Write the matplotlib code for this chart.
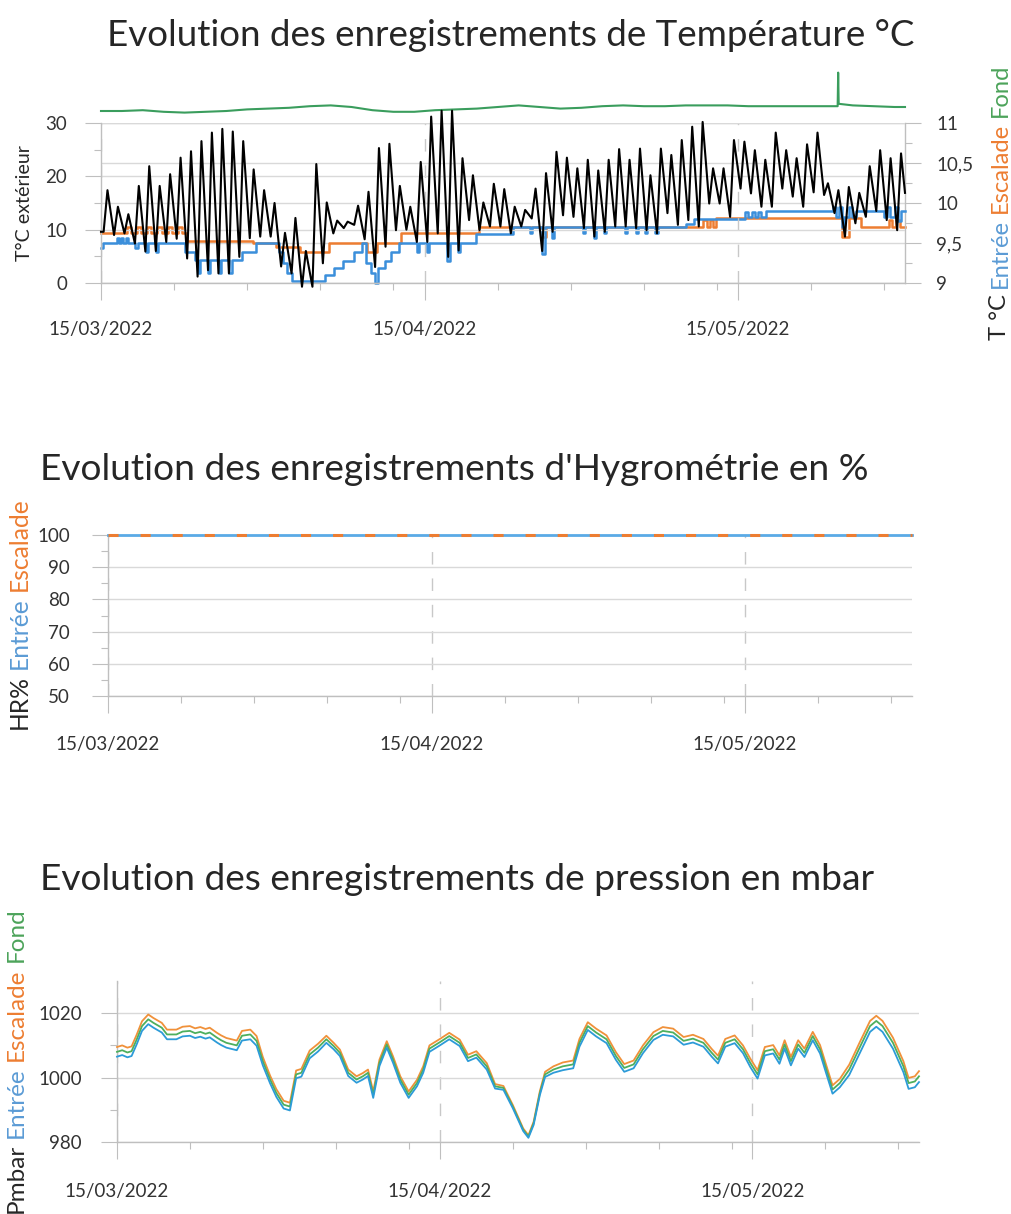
import matplotlib
matplotlib.use('Agg')
import matplotlib.pyplot as plt
import matplotlib.dates as mdates
from matplotlib.ticker import FixedLocator, MultipleLocator, FuncFormatter
from datetime import datetime, timedelta

plt.rcParams['font.family'] = ['Lato', 'DejaVu Sans']

W, H = 1011, 1214

# ------------------------------------------------------------------ data
START = '15/03/2022'
X_END = '31/05/2022'
major_dates = ['15/03/2022', '15/04/2022', '15/05/2022']
minor_dates = ['22/03/2022', '29/03/2022', '05/04/2022', '12/04/2022',
               '22/04/2022', '29/04/2022', '06/05/2022', '13/05/2022',
               '22/05/2022', '29/05/2022']

# exterior temperature: daily minimum / maximum (day 0 = 15/03)
ext_start = 9.6
ext_min = [9.6, 9.0, 9.3, 7.4, 5.9, 6.0, 7.7, 8.3, 4.6, 1.2,
           2.4, 1.8, 1.8, 4.9, 8.4, 8.7, 8.7, 3.1, 1.8, -0.7,
           -0.7, 3.7, 9.3, 10.3, 10.9, 8.2, 3.0, 6.8, 9.9, 10.0,
           7.7, 7.7, 9.3, 4.9, 6.1, 11.8, 9.9, 10.6, 10.6, 9.3,
           10.6, 12.1, 6.0, 9.6, 12.7, 12.4, 10.3, 8.7, 9.6, 10.6,
           10.6, 10.3, 9.9, 9.3, 13.1, 10.9, 11.8, 10.6, 14.9, 14.9,
           12.4, 17.7, 16.8, 14.3, 14.3, 17.7, 16.2, 14.3, 17.0, 16.5,
           13.1, 8.7, 11.2, 12.4, 13.5, 11.8, 9.9]
ext_max = [17.4, 14.3, 12.9, 18.2, 21.9, 18.2, 20.4, 23.5, 24.7, 26.6,
           28.2, 28.9, 28.4, 26.6, 21.3, 17.4, 15.0, 9.4, 12.2, 6.0,
           22.3, 15.1, 11.7, 11.5, 14.5, 17.1, 25.3, 26.1, 18.2, 14.3,
           22.7, 31.2, 32.3, 32.3, 23.4, 20.2, 15.1, 18.6, 17.6, 14.3,
           13.7, 17.7, 20.6, 24.6, 23.5, 21.5, 23.1, 21.1, 23.1, 25.1,
           23.1, 25.2, 20.2, 25.2, 24.0, 26.8, 29.3, 30.2, 21.5, 21.5,
           26.8, 26.5, 24.9, 23.1, 28.2, 24.9, 23.4, 26.0, 28.2, 18.7,
           17.4, 18.0, 16.9, 21.9, 24.9, 23.4, 24.3]
ext_end = 16.9

# cave temperatures (right axis) - step series, day offsets from 15/03
blue_days = [0.0, 0.15, 1.5, 1.7, 1.9, 2.1, 2.4, 2.6, 3.3, 3.5,
             4.3, 4.5, 5.3, 5.5, 8.0, 9.0, 9.3, 9.5, 10.2, 10.4,
             11.3, 11.5, 12.3, 12.5, 13.5, 14.8, 17.0, 17.4, 17.8, 18.3,
             21.5, 22.3, 23.2, 24.2, 25.0, 25.4, 25.9, 26.2, 26.5, 27.2,
             27.8, 28.5, 30.3, 30.5, 31.2, 31.4, 33.1, 33.4, 34.2, 34.4,
             35.9, 39.5, 41.1, 41.3, 42.2, 42.5, 43.2, 43.4, 46.2, 46.4,
             47.2, 47.4, 48.2, 48.4, 50.2, 50.4, 51.2, 51.4, 52.1, 52.3,
             53.1, 53.3, 56.0, 56.8, 61.7, 62.0, 62.3, 62.6, 62.9, 63.2,
             63.7, 70.1, 70.4, 70.7, 71.0, 71.2, 71.6, 71.9, 72.3, 75.0,
             75.3, 75.6, 76.0, 76.3, 76.6, 77.0]
blue_vals = [9.44, 9.50, 9.56, 9.50, 9.56, 9.50, 9.56, 9.50, 9.44, 9.50,
             9.39, 9.50, 9.39, 9.50, 9.39, 9.29, 9.12, 9.29, 9.12, 9.29,
             9.12, 9.29, 9.12, 9.29, 9.39, 9.50, 9.39, 9.25, 9.12, 9.02,
             9.10, 9.19, 9.28, 9.39, 9.50, 9.25, 9.12, 9.00, 9.19, 9.28,
             9.39, 9.50, 9.39, 9.50, 9.39, 9.50, 9.28, 9.50, 9.39, 9.50,
             9.61, 9.70, 9.63, 9.70, 9.36, 9.70, 9.56, 9.70, 9.63, 9.70,
             9.56, 9.70, 9.63, 9.70, 9.63, 9.70, 9.63, 9.70, 9.63, 9.70,
             9.63, 9.70, 9.74, 9.80, 9.89, 9.83, 9.89, 9.83, 9.89, 9.83,
             9.90, 9.95, 9.83, 9.95, 9.70, 9.83, 9.95, 9.83, 9.90, 9.83,
             9.95, 9.83, 9.95, 9.78, 9.90, 9.90]
orange_days = [0.0, 2.5, 2.9, 3.4, 3.8, 4.4, 4.8, 5.4, 5.8, 6.4,
               6.8, 7.4, 7.8, 8.2, 14.6, 16.8, 19.1, 21.8, 25.5, 26.4,
               28.7, 36.2, 42.2, 42.6, 57.7, 58.0, 58.3, 58.6, 58.9, 71.0,
               71.6, 72.8, 75.5, 75.8, 76.1, 76.5, 77.0]
orange_vals = [9.62, 9.70, 9.62, 9.70, 9.62, 9.70, 9.62, 9.70, 9.62, 9.70,
               9.62, 9.70, 9.62, 9.53, 9.50, 9.45, 9.39, 9.50, 9.39, 9.50,
               9.62, 9.70, 9.58, 9.70, 9.79, 9.70, 9.79, 9.70, 9.81, 9.58,
               9.81, 9.70, 9.79, 9.70, 9.79, 9.70, 9.70]
fond_days = [0, 2, 4, 6, 8, 10, 12, 14, 16, 18, 20, 22, 24, 26, 28, 30, 32, 34,
             36, 38, 40, 42, 44, 46, 48, 50, 52, 54, 56, 58, 60, 62, 64, 66, 68,
             70, 70.55, 70.6, 70.65, 72, 74, 76, 77]
fond_vals = [11.15, 11.15, 11.16, 11.14, 11.13, 11.14, 11.15, 11.17, 11.18,
             11.19, 11.21, 11.22, 11.20, 11.16, 11.14, 11.14, 11.16, 11.17,
             11.18, 11.20, 11.22, 11.20, 11.18, 11.19, 11.21, 11.22, 11.21,
             11.21, 11.22, 11.22, 11.22, 11.21, 11.21, 11.21, 11.21, 11.21,
             11.21, 11.63, 11.24, 11.22, 11.21, 11.20, 11.20]

# hygrometry
hr_days = [0, 77]
hr_entree = [100, 100]
hr_escalade = [100, 100]

# pressure
p_days = [0.0, 0.5, 1.0, 1.4, 1.9, 2.4, 3.0, 3.5, 4.3, 4.8,
          5.7, 6.3, 7.0, 7.5, 8.0, 8.5, 8.9, 9.6, 10.0, 10.5,
          11.0, 11.5, 12.0, 12.8, 13.4, 14.0, 14.7, 15.3, 16.0, 16.6,
          17.2, 17.7, 18.5, 19.3, 20.1, 20.8, 21.4, 22.2, 23.0, 23.6,
          24.1, 24.6, 25.2, 25.9, 26.5, 27.2, 28.0, 28.8, 29.4, 30.0,
          31.0, 31.9, 32.9, 33.7, 34.5, 35.5, 36.3, 37.1, 38.0, 39.0,
          39.5, 40.0, 40.6, 41.1, 41.9, 42.8, 43.8, 44.4, 45.2, 46.0,
          47.0, 47.9, 48.7, 49.6, 50.5, 51.5, 52.4, 53.4, 54.4, 55.3,
          56.3, 57.1, 57.7, 58.4, 59.3, 60.1, 60.8, 61.5, 62.2, 63.0,
          63.6, 64.1, 64.7, 65.4, 66.0, 66.8, 67.5, 68.1, 68.7, 69.4,
          70.3, 71.3, 72.3, 72.9, 73.5, 74.5, 75.5, 76.0, 76.6, 77.0]
p_fond = [1008.0, 1008.5, 1007.8, 1008.2, 1011.9, 1016.0, 1018.1, 1017.0, 1015.5, 1013.4,
          1013.4, 1014.3, 1014.5, 1013.8, 1014.2, 1013.6, 1014.0, 1012.4, 1011.6, 1010.8,
          1010.4, 1010.0, 1013.0, 1013.4, 1011.4, 1005.1, 999.4, 995.2, 991.6, 991.0,
          1001.0, 1001.5, 1007.2, 1009.3, 1011.9, 1009.8, 1007.7, 1001.5, 999.4, 1000.4,
          1001.5, 994.7, 1004.6, 1010.3, 1005.6, 999.4, 994.7, 998.3, 1002.5, 1009.0,
          1011.0, 1012.9, 1010.8, 1006.1, 1007.2, 1003.5, 997.3, 996.8, 991.0, 983.8,
          981.7, 985.8, 995.2, 1001.0, 1002.5, 1003.5, 1004.1, 1010.8, 1016.0, 1014.0,
          1011.9, 1006.7, 1003.0, 1004.1, 1008.8, 1012.9, 1014.5, 1014.0, 1011.4, 1012.1,
          1010.8, 1007.7, 1005.6, 1010.8, 1011.9, 1008.8, 1004.6, 1001.0, 1008.2, 1008.8,
          1005.6, 1010.3, 1005.1, 1010.3, 1007.7, 1012.9, 1008.8, 1002.5, 996.3, 998.3,
          1002.5, 1009.3, 1016.0, 1017.6, 1016.0, 1010.8, 1003.5, 998.3, 998.8, 1000.4]
p_escalade = [1009.5, 1010.0, 1009.3, 1009.7, 1013.4, 1017.5, 1019.6, 1018.5, 1017.0, 1014.9,
              1014.9, 1015.8, 1016.0, 1015.3, 1015.7, 1015.1, 1015.5, 1013.9, 1013.1, 1012.3,
              1011.9, 1011.5, 1014.5, 1014.9, 1012.9, 1006.4, 1000.6, 996.4, 992.8, 992.2,
              1002.2, 1002.7, 1008.4, 1010.5, 1013.0, 1010.8, 1008.7, 1002.5, 1000.4, 1001.4,
              1002.5, 995.7, 1005.6, 1011.3, 1006.6, 1000.4, 995.7, 999.3, 1003.5, 1010.0,
              1012.0, 1013.9, 1011.8, 1007.1, 1008.2, 1004.5, 998.0, 997.4, 991.5, 984.2,
              982.1, 986.3, 995.8, 1001.8, 1003.5, 1004.7, 1005.3, 1012.0, 1017.2, 1015.2,
              1013.1, 1007.9, 1004.2, 1005.3, 1010.0, 1014.1, 1015.7, 1015.2, 1012.6, 1013.3,
              1012.0, 1008.9, 1006.8, 1012.0, 1013.1, 1010.0, 1005.9, 1002.3, 1009.5, 1010.1,
              1006.9, 1011.6, 1006.4, 1011.6, 1009.0, 1014.2, 1010.1, 1003.8, 997.6, 999.6,
              1004.0, 1010.9, 1017.6, 1019.2, 1017.6, 1012.4, 1005.1, 999.9, 1000.4, 1002.0]
p_entree = [1006.5, 1007.0, 1006.3, 1006.7, 1010.4, 1014.5, 1016.6, 1015.5, 1014.0, 1011.9,
            1011.9, 1012.8, 1013.0, 1012.3, 1012.7, 1012.1, 1012.5, 1010.9, 1010.1, 1009.3,
            1008.9, 1008.5, 1011.5, 1011.9, 1009.9, 1003.8, 998.2, 994.0, 990.4, 989.8,
            999.8, 1000.3, 1006.0, 1008.1, 1010.8, 1008.8, 1006.7, 1000.5, 998.4, 999.4,
            1000.5, 993.7, 1003.6, 1009.3, 1004.6, 998.4, 993.7, 997.3, 1001.5, 1008.0,
            1010.0, 1011.9, 1009.8, 1005.1, 1006.2, 1002.5, 996.6, 996.2, 990.5, 983.4,
            981.3, 985.3, 994.6, 1000.2, 1001.5, 1002.3, 1002.9, 1009.6, 1014.8, 1012.8,
            1010.7, 1005.5, 1001.8, 1002.9, 1007.6, 1011.7, 1013.3, 1012.8, 1010.2, 1010.9,
            1009.6, 1006.5, 1004.4, 1009.6, 1010.7, 1007.6, 1003.3, 999.7, 1006.9, 1007.5,
            1004.3, 1009.0, 1003.8, 1009.0, 1006.4, 1011.6, 1007.5, 1001.2, 995.0, 997.0,
            1000.8, 1007.5, 1014.2, 1015.8, 1014.2, 1009.0, 1001.7, 996.5, 997.0, 998.6]

titles = ["Evolution des enregistrements de Température °C",
          "Evolution des enregistrements d'Hygrométrie en %",
          "Evolution des enregistrements de pression en mbar"]

assert len(blue_days) == len(blue_vals)
assert len(orange_days) == len(orange_vals)
assert len(fond_days) == len(fond_vals)
assert len(p_days) == len(p_fond) == len(p_escalade) == len(p_entree)
assert len(ext_min) == len(ext_max)

# ------------------------------------------------------------------ style
BLUE = '#3B8FDB'
ORANGE = '#ED7D31'
GREEN = '#3A9D5D'
P_BLUE = '#2C9BD8'
P_ORANGE = '#F0913A'
P_GREEN = '#4DAF5E'
GRID = '#D9D9D9'
AXIS = '#BFBFBF'
TXT = '#333333'
LBL_BLUE = '#5B9BD5'
LBL_ORANGE = '#ED7D31'
LBL_GREEN = '#4CA35A'

start_dt = datetime.strptime(START, '%d/%m/%Y')


def to_dates(days):
    return [start_dt + timedelta(days=float(d)) for d in days]


def pdate(s):
    return datetime.strptime(s, '%d/%m/%Y')


fig = plt.figure(figsize=(W / 100, H / 100), dpi=100)
renderer = fig.canvas.get_renderer()


def box(left, right, top, bottom):
    return [left / W, 1 - bottom / H, (right - left) / W, (bottom - top) / H]


def style_x(ax, pad=15.5):
    ax.set_xlim(pdate(START), pdate(X_END))
    ax.xaxis.set_major_locator(FixedLocator(mdates.date2num([pdate(d) for d in major_dates])))
    ax.xaxis.set_minor_locator(FixedLocator(mdates.date2num([pdate(d) for d in minor_dates])))
    ax.xaxis.set_major_formatter(mdates.DateFormatter('%d/%m/%Y'))
    ax.tick_params(axis='x', which='major', length=12, width=0.8, color=AXIS,
                   pad=pad, labelsize=13.5, labelcolor=TXT)
    ax.tick_params(axis='x', which='minor', length=5, width=0.8, color=AXIS)
    ax.xaxis.grid(True, which='major', color='#C8C8C8', lw=1.0, ls=(0, (9, 10)))


def style_y(ax, pad=13):
    ax.tick_params(axis='y', which='major', length=11.5, width=0.8, color=AXIS,
                   pad=pad, labelsize=13.5, labelcolor=TXT)
    ax.tick_params(axis='y', which='minor', length=5, width=0.8, color=AXIS)
    ax.yaxis.grid(True, which='major', color=GRID, lw=1.0)


def spines(ax, show):
    for k, sp in ax.spines.items():
        sp.set_visible(k in show)
        sp.set_color(AXIS)
        sp.set_linewidth(1.0)


# ------------------------------------------------------------------ top chart
ax = fig.add_axes(box(101, 905, 123, 283))
ax2 = ax.twinx()
ax.set_zorder(3)
ax.patch.set_visible(False)
ax.set_ylim(0, 30)
ax2.set_ylim(9, 11)
style_x(ax)
ax.yaxis.set_major_locator(MultipleLocator(10))
ax.yaxis.set_minor_locator(MultipleLocator(5))
style_y(ax, pad=13)
ax2.yaxis.set_major_locator(MultipleLocator(0.5))
ax2.yaxis.set_minor_locator(MultipleLocator(0.25))
ax2.yaxis.set_major_formatter(FuncFormatter(lambda v, p: ('%g' % v).replace('.', ',')))
style_y(ax2, pad=11)
spines(ax, ['left', 'bottom'])
spines(ax2, ['right'])
ax.set_axisbelow(True)
ax2.set_axisbelow(True)

ext_t = [0.0]
ext_v = [ext_start]
for i in range(len(ext_min)):
    ext_t += [i + 0.25, i + 0.62]
    ext_v += [ext_min[i], ext_max[i]]
ext_t.append(77.0)
ext_v.append(ext_end)

ax2.plot(to_dates(blue_days), blue_vals, drawstyle='steps-post', color=BLUE,
         lw=1.8, clip_on=False, zorder=3)
ax2.plot(to_dates(orange_days), orange_vals, drawstyle='steps-post', color=ORANGE,
         lw=1.8, clip_on=False, zorder=2)
ax2.plot(to_dates(fond_days), fond_vals, color=GREEN, lw=1.5, clip_on=False, zorder=2)
ax.plot(to_dates(ext_t), ext_v, color='black', lw=1.5, clip_on=False, zorder=4,
        solid_joinstyle='round')

# ------------------------------------------------------------------ middle chart
axm = fig.add_axes(box(108, 912, 535, 696))
axm.set_ylim(50, 100)
style_x(axm, pad=17)
axm.yaxis.set_major_locator(MultipleLocator(10))
axm.yaxis.set_minor_locator(MultipleLocator(5))
style_y(axm, pad=16)
spines(axm, ['left', 'bottom'])
axm.set_axisbelow(True)
axm.plot(to_dates(hr_days), hr_entree, color='#5AAAE6', lw=2.0, clip_on=False, zorder=3)
axm.plot(to_dates(hr_days), hr_escalade, color=ORANGE, lw=2.2, ls=(0, (3.3, 7.2)),
         clip_on=False, zorder=4)

# ------------------------------------------------------------------ bottom chart
axp = fig.add_axes(box(117, 919, 981, 1142))
axp.set_ylim(980, 1030)
style_x(axp, pad=17.5)
axp.yaxis.set_major_locator(FixedLocator([980, 1000, 1020]))
axp.yaxis.set_minor_locator(FixedLocator([990, 1010]))
style_y(axp, pad=14)
spines(axp, ['left', 'bottom'])
axp.set_axisbelow(True)
pd_ = to_dates(p_days)
axp.plot(pd_, p_escalade, color=P_ORANGE, lw=1.3, clip_on=False, zorder=3)
axp.plot(pd_, p_fond, color=P_GREEN, lw=1.3, clip_on=False, zorder=4)
axp.plot(pd_, p_entree, color=P_BLUE, lw=1.3, clip_on=False, zorder=5)


# ------------------------------------------------------------------ titles
def fit_title(s, x0, x1, yc):
    t = fig.text(0, 0, s, fontsize=20)
    w = t.get_window_extent(renderer=renderer).width
    t.remove()
    fs = 20 * (x1 - x0) / w
    fig.text(x0 / W, 1 - yc / H, s, fontsize=fs, color='#262626', ha='left', va='center')


fit_title(titles[0], 107, 918, 36)
fit_title(titles[1], 40, 870, 470)
fit_title(titles[2], 40, 877, 880)


# ------------------------------------------------------------------ multicolour axis labels
def vlabel(parts, xc, ybot, ytop, size=14):
    def meas(s, fs):
        t = fig.text(0, 0, s, fontsize=fs, rotation=90)
        h = t.get_window_extent(renderer=renderer).height
        t.remove()
        return h

    def total(fs):
        sp = meas('a b', fs) - meas('ab', fs)
        hs = [meas(p, fs) for p, _ in parts]
        return hs, sp, sum(hs) + sp * (len(parts) - 1)

    hs, sp, tot = total(size)
    fs = size * (ybot - ytop) / tot
    hs, sp, tot = total(fs)
    y = ybot
    for (p, c), h in zip(parts, hs):
        fig.text(xc / W, 1 - y / H, p, fontsize=fs, rotation=90, color=c,
                 ha='center', va='bottom')
        y -= h + sp


vlabel([('T°C extérieur', '#262626')], 25, 261, 145)
vlabel([('T °C', '#262626'), ('Entrée', LBL_BLUE), ('Escalade', LBL_ORANGE),
        ('Fond', LBL_GREEN)], 1000, 340, 62)
vlabel([('HR%', '#262626'), ('Entrée', LBL_BLUE), ('Escalade', LBL_ORANGE)], 19, 729, 496)
vlabel([('Pmbar', '#262626'), ('Entrée', LBL_BLUE), ('Escalade', LBL_ORANGE),
        ('Fond', LBL_GREEN)], 16, 1213, 906)

fig.savefig('out.png', dpi=100)
